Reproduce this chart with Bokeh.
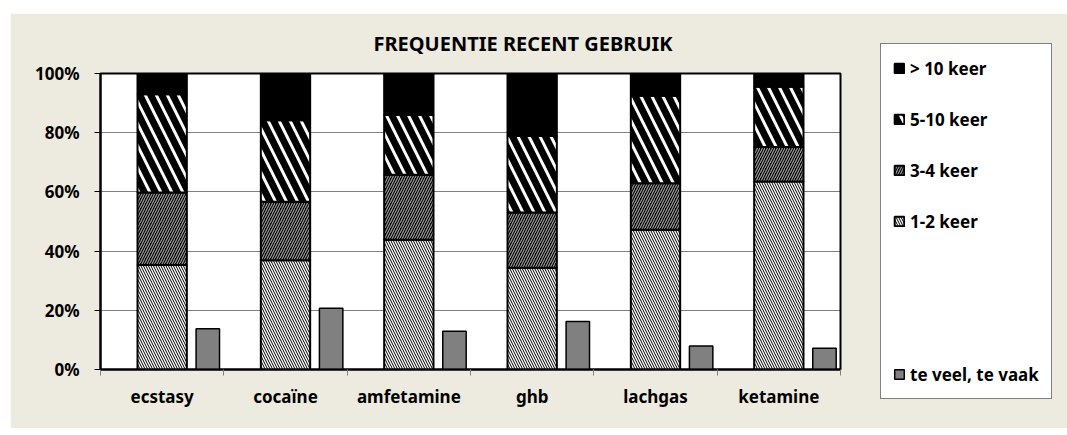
from bokeh.plotting import figure
from bokeh.models import (Range1d, FixedTicker, PrintfTickFormatter, Legend, LegendItem,
                          ColumnDataSource, Spacer)
from bokeh.layouts import column, row
from bokeh.transform import dodge
from bokeh.embed import file_html
from bokeh.resources import INLINE

# ---- data (percent of users) ----
categories = ["ecstasy", "cocaïne", "amfetamine", "ghb", "lachgas", "ketamine"]
keer_1_2 = [35.3, 36.9, 43.8, 34.4, 47.2, 63.5]
keer_3_4 = [24.5, 19.8, 22.0, 18.6, 15.7, 11.7]
keer_5_10 = [33.2, 27.5, 20.2, 25.9, 29.6, 20.3]
keer_meer_10 = [7.0, 15.8, 14.0, 21.1, 7.5, 4.5]
te_veel_te_vaak = [13.8, 20.7, 12.9, 16.2, 7.9, 7.2]
y_ticks = [0, 20, 40, 60, 80, 100]
series_labels = ["1-2 keer", "3-4 keer", "5-10 keer", "> 10 keer"]
extra_label = "te veel, te vaak"

FONT = "Noto Sans"
BEIGE = "#EDEAE0"

# styles of the four stacked series (bottom -> top)
styles = [
    dict(fill_color="white", hatch_pattern="\\", hatch_color="black", hatch_scale=5, hatch_weight=1.0),
    dict(fill_color="black", hatch_pattern="/", hatch_color="#9a9a9a", hatch_scale=5, hatch_weight=1.2),
    dict(fill_color="black", hatch_pattern="\\", hatch_color="white", hatch_scale=22, hatch_weight=3.0),
    dict(fill_color="black", hatch_pattern=" ", hatch_color="black", hatch_scale=1, hatch_weight=1),
]
gray_style = dict(fill_color="#808080", line_color="black", line_width=1.5)

n = len(categories)
source = ColumnDataSource(dict(
    x=list(range(n)),
    k12=keer_1_2, k34=keer_3_4, k510=keer_5_10, k10=keer_meer_10,
    tv=te_veel_te_vaak,
))

p = figure(width=1046, height=415, frame_width=740, frame_height=296,
           x_range=Range1d(-0.5, n - 0.5), y_range=Range1d(0, 100),
           output_backend="svg", toolbar_location=None,
           min_border_left=90, min_border_right=216,
           min_border_top=60, min_border_bottom=59,
           background_fill_color="white", border_fill_color=BEIGE)

stack = p.vbar_stack(["k12", "k34", "k510", "k10"], x="x", width=0.4, source=source,
                     fill_color=[s["fill_color"] for s in styles],
                     hatch_pattern=[s["hatch_pattern"] for s in styles],
                     hatch_color=[s["hatch_color"] for s in styles],
                     hatch_scale=[s["hatch_scale"] for s in styles],
                     hatch_weight=[s["hatch_weight"] for s in styles],
                     line_color="black", line_width=2)

gray = p.vbar(x=dodge("x", 0.37), top="tv", width=0.19, source=source, **gray_style)

blank = p.vbar(x=[0], top=[0], width=0.0, fill_alpha=0, line_alpha=0)

# y axis
p.yaxis.ticker = FixedTicker(ticks=y_ticks)
p.yaxis.formatter = PrintfTickFormatter(format="%d%%")
p.yaxis.axis_line_color = "black"
p.yaxis.axis_line_width = 2
p.yaxis.major_tick_out = 6
p.yaxis.major_tick_in = 0
p.yaxis.major_tick_line_color = "black"
p.yaxis.minor_tick_line_color = None
p.yaxis.major_label_standoff = 15
p.yaxis.major_label_text_font = FONT
p.yaxis.major_label_text_font_style = "bold"
p.yaxis.major_label_text_font_size = "17px"
p.yaxis.major_label_text_color = "black"

# x axis
p.xaxis.ticker = FixedTicker(ticks=list(range(n)),
                             minor_ticks=[i - 0.5 for i in range(n + 1)])
p.xaxis.major_label_overrides = {i: c for i, c in enumerate(categories)}
p.xaxis.major_tick_line_color = None
p.xaxis.major_tick_out = 0
p.xaxis.major_tick_in = 0
p.xaxis.minor_tick_line_color = "#808080"
p.xaxis.minor_tick_out = 6
p.xaxis.minor_tick_in = 0
p.xaxis.axis_line_color = "black"
p.xaxis.axis_line_width = 2
p.xaxis.major_label_standoff = 9
p.xaxis.major_label_text_font = FONT
p.xaxis.major_label_text_font_style = "bold"
p.xaxis.major_label_text_font_size = "17px"
p.xaxis.major_label_text_color = "black"

# grid
p.xgrid.visible = False
p.ygrid.grid_line_color = "black"
p.ygrid.grid_line_dash = "1 1"
p.ygrid.grid_line_width = 1

p.outline_line_color = "black"
p.outline_line_width = 2

# title
p.title.text = "FREQUENTIE RECENT GEBRUIK"
p.title.text_font = FONT
p.title.text_font_style = "bold"
p.title.text_font_size = "20px"
p.title.text_color = "black"
p.title.align = "left"
p.title.offset = 273
p.title.vertical_align = "top"
p.title.standoff = 29

# legend (right panel, vertically centred on the frame)
items = [LegendItem(label=series_labels[i], renderers=[stack[i]]) for i in (3, 2, 1, 0)]
items += [LegendItem(label=" ", renderers=[blank]),
          LegendItem(label="  ", renderers=[blank]),
          LegendItem(label=extra_label, renderers=[gray])]

legend = Legend(items=items, location="center_left")
legend.padding = 12
legend.spacing = 27
legend.label_height = 24
legend.glyph_height = 12
legend.glyph_width = 12
legend.label_standoff = 5
legend.label_width = 120
legend.margin = 40
legend.border_line_color = "black"
legend.border_line_width = 1.5
legend.background_fill_color = "white"
legend.background_fill_alpha = 1
legend.label_text_font = FONT
legend.label_text_font_style = "bold"
legend.label_text_font_size = "17px"
legend.label_text_color = "black"
p.add_layout(legend, "right")

layout = column(Spacer(height=13), row(Spacer(width=10), p))

open("out.html", "w").write(file_html(layout, INLINE))
